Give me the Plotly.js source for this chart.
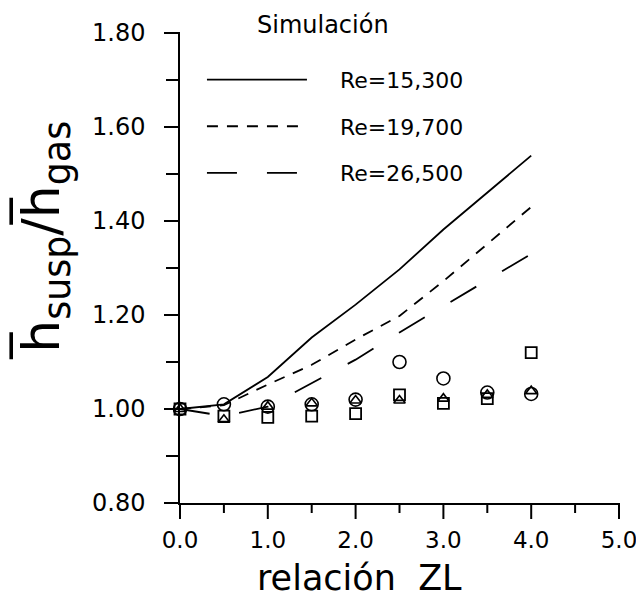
<!DOCTYPE html>
<html>
<head>
<meta charset="utf-8">
<script src="https://cdn.plot.ly/plotly-3.0.1.min.js"></script>
<style>html,body{margin:0;padding:0;background:#fff;}</style>
</head>
<body>
<div id="chart" style="width:636px;height:600px;"></div>
<script>
// relación ZL
const zl = [0, 0.5, 1.0, 1.5, 2.0, 2.5, 3.0, 3.5, 4.0];
// Simulación (curves)
const sim15300 = [1.000, 1.010, 1.068, 1.152, 1.222, 1.297, 1.382, 1.460, 1.539];
const sim19700 = [1.000, 1.008, 1.052, 1.094, 1.148, 1.198, 1.272, 1.352, 1.430];
const sim26500 = [1.000, 0.985, 1.005, 1.055, 1.105, 1.163, 1.219, 1.275, 1.330];
// Experimental points
const expCircle   = [1.000, 1.010, 1.005, 1.010, 1.020, 1.100, 1.065, 1.035, 1.032];
const expSquare   = [1.000, 0.985, 0.982, 0.985, 0.990, 1.030, 1.012, 1.022, 1.120];
const expTriangle = [1.000, 0.977, 1.005, 1.012, 1.018, 1.018, 1.022, 1.030, 1.038];
const seriesNames = ['Re=15,300', 'Re=19,700', 'Re=26,500'];
// Axis ranges and ticks
const xRange = [0, 5];
const yRange = [0.8, 1.8];
const xMajor = [0, 1, 2, 3, 4, 5];
const xMinor = [0.5, 1.5, 2.5, 3.5, 4.5];
const yMajor = [0.8, 1.0, 1.2, 1.4, 1.6, 1.8];
const yMinor = [0.9, 1.1, 1.3, 1.5, 1.7];

const FONT = 'DejaVu Sans, sans-serif';
const NB = '\u00a0\u00a0\u00a0\u00a0';
const lineStyle = (dash) => ({color: 'black', width: 1.8, dash: dash});

const traces = [
  {x: zl, y: sim15300, mode: 'lines', name: NB + seriesNames[0], line: lineStyle('solid'), legendgroup: 'a'},
  {x: zl, y: sim19700, mode: 'lines', name: NB + seriesNames[1], line: lineStyle('11px,9px'), legendgroup: 'b'},
  {x: zl, y: sim26500, mode: 'lines', name: NB + seriesNames[2], line: lineStyle('30px,30px'), legendgroup: 'c'},
  {x: zl, y: expCircle, mode: 'markers', showlegend: false, cliponaxis: false,
   marker: {symbol: 'circle-open', size: 13, color: 'black', line: {width: 1.6, color: 'black'}}},
  {x: zl, y: expSquare, mode: 'markers', showlegend: false, cliponaxis: false,
   marker: {symbol: 'square-open', size: 11, color: 'black', line: {width: 1.8, color: 'black'}}},
  {x: zl, y: expTriangle, mode: 'markers', showlegend: false, cliponaxis: false,
   marker: {symbol: 'triangle-up-open', size: 10, color: 'black', line: {width: 1.6, color: 'black'}}}
];

// tick marks as pixel-length shapes placed at the axes' fractional positions
const xFrac = v => (v - xRange[0]) / (xRange[1] - xRange[0]);
const yFrac = v => (v - yRange[0]) / (yRange[1] - yRange[0]);
const tickLine = {color: 'black', width: 2};
const xTickShape = (v, len) => ({type: 'line', xref: 'paper', yref: 'paper', ysizemode: 'pixel', yanchor: 0,
  x0: xFrac(v), x1: xFrac(v), y0: 0, y1: -len, line: tickLine, layer: 'above'});
const yTickShape = (v, len) => ({type: 'line', xref: 'paper', yref: 'paper', xsizemode: 'pixel', xanchor: 0,
  x0: 0, x1: -len, y0: yFrac(v), y1: yFrac(v), line: tickLine, layer: 'above'});
const shapes = [].concat(
  xMajor.map(v => xTickShape(v, 16)), xMinor.map(v => xTickShape(v, 10)),
  yMajor.map(v => yTickShape(v, 16)), yMinor.map(v => yTickShape(v, 14))
);

const layout = {
  width: 636, height: 600,
  margin: {l: 180, r: 17, t: 33, b: 97},
  font: {family: FONT},
  showlegend: true,
  legend: {
    x: 0.05, xanchor: 'left', y: 0.945, yanchor: 'top',
    font: {family: FONT, size: 22, color: 'black'},
    itemwidth: 100, tracegroupgap: 15, traceorder: 'grouped'
  },
  xaxis: {
    range: xRange, tickvals: xMajor, ticktext: xMajor.map(v => v.toFixed(1)),
    ticks: 'outside', ticklen: 16, tickwidth: 2, tickcolor: 'rgba(0,0,0,0)', ticklabeloverflow: 'allow',
    showline: true, linecolor: 'black', linewidth: 1.5, showgrid: false, zeroline: false,
    tickfont: {family: FONT, size: 23, color: 'black'}
  },
  yaxis: {
    range: yRange, tickvals: yMajor, ticktext: yMajor.map(v => v.toFixed(2)),
    ticks: 'outside', ticklen: 16, tickwidth: 2, tickcolor: 'rgba(0,0,0,0)', ticklabelstandoff: 12,
    showline: true, linecolor: 'black', linewidth: 1.5, showgrid: false, zeroline: false,
    tickfont: {family: FONT, size: 24, color: 'black'}
  },
  shapes: shapes,
  annotations: [
    {text: 'Simulación', xref: 'paper', yref: 'paper', x: 0.325, y: 1.0, xanchor: 'center', yanchor: 'middle',
     yshift: 8, showarrow: false, font: {family: FONT, size: 24, color: 'black'}},
    {text: 'h\u0305<sub>susp</sub>/h\u0305<sub>gas</sub>', xref: 'paper', yref: 'paper',
     x: -0.31, y: 0.56, xanchor: 'center', yanchor: 'middle', textangle: -90, showarrow: false,
     font: {family: FONT, size: 52, color: 'black'}},
    {text: 'relación\u00a0\u00a0ZL', xref: 'paper', yref: 'paper',
     x: 0.41, y: -0.16, xanchor: 'center', yanchor: 'middle', showarrow: false,
     font: {family: FONT, size: 35, color: 'black'}}
  ]
};

Plotly.newPlot('chart', traces, layout, {displayModeBar: false});
</script>
</body>
</html>
